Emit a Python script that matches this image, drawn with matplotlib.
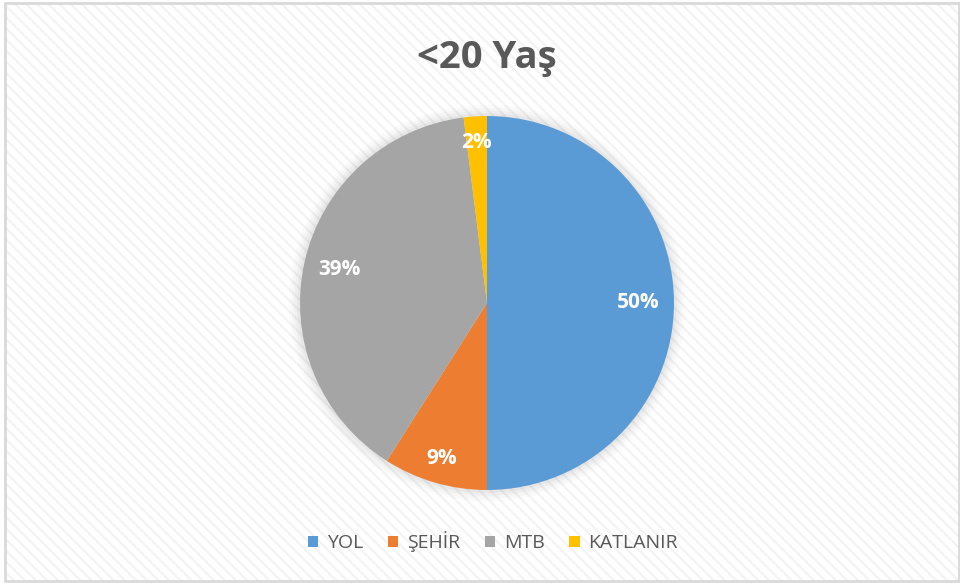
import matplotlib
matplotlib.use("Agg")
import numpy as np
import matplotlib.pyplot as plt
from matplotlib.patches import Rectangle, Patch, Circle

categories = ["YOL", "ŞEHİR", "MTB", "KATLANIR"]
values = [50, 9, 39, 2]
colors = ["#5B9BD5", "#ED7D31", "#A5A5A5", "#FFC000"]
title = "<20 Yaş"

plt.rcParams['font.family'] = ['Open Sans', 'DejaVu Sans']
plt.rcParams['hatch.linewidth'] = 1.6

W, H = 960, 583
fig = plt.figure(figsize=(9.6, 5.83), dpi=100)
fig.patch.set_facecolor('white')

# background with diagonal pattern and border
bg = fig.add_axes([0, 0, 1, 1], zorder=0)
bg.set_xlim(0, W)
bg.set_ylim(H, 0)
bg.axis('off')
bg.add_patch(Rectangle((5, 3), 954, 578, facecolor='white', edgecolor='none'))
bg.add_patch(Rectangle((5, 3), 954, 578, facecolor='none', edgecolor='#f3f3f3',
                       linewidth=0, hatch='\\\\\\'))
bg.add_patch(Rectangle((5, 3), 954, 578, facecolor='none', edgecolor='#d9d9d9', linewidth=2))

# pie
cx, cy, r = 487, 303, 187
ax = fig.add_axes([(cx - r) / W, 1 - (cy + r) / H, 2 * r / W, 2 * r / H], zorder=2)
ax.axis('off')
for rad, a in [(1.06, 0.03), (1.045, 0.04), (1.03, 0.05), (1.015, 0.07)]:
    ax.add_patch(Circle((0, 0), rad, facecolor='#808080', alpha=a, edgecolor='none',
                        zorder=0, clip_on=False))
wedges, texts, autotexts = ax.pie(values, colors=colors, startangle=90, counterclock=False,
                                  radius=1, autopct='%1.0f%%', pctdistance=0.81,
                                  wedgeprops=dict(linewidth=0, edgecolor='none'),
                                  textprops=dict(color='white', fontsize=15, fontweight='bold'))
ax.set_xlim(-1, 1)
ax.set_ylim(-1, 1)
ax.set_aspect('equal')
label_dist = [0.81, 0.865, 0.81, 0.86]
for w, t, d in zip(wedges, autotexts, label_dist):
    w.set_zorder(2)
    t.set_zorder(3)
    mid = np.deg2rad((w.theta1 + w.theta2) / 2)
    t.set_position((d * np.cos(mid), d * np.sin(mid)))

fig.text(487 / W, 1 - 58 / H, title, ha='center', va='center', fontsize=27.5,
         fontweight='bold', color='#595959')

handles = [Patch(facecolor=c, edgecolor='none') for c in colors]
leg = fig.legend(handles, categories, loc='center', bbox_to_anchor=(493 / W, 1 - 542 / H),
                 ncol=4, frameon=False, fontsize=14, handlelength=0.55, handleheight=0.55,
                 handletextpad=0.45, columnspacing=1.25)
for t in leg.get_texts():
    t.set_color('#595959')

fig.savefig('out.png', dpi=100, facecolor='white')
